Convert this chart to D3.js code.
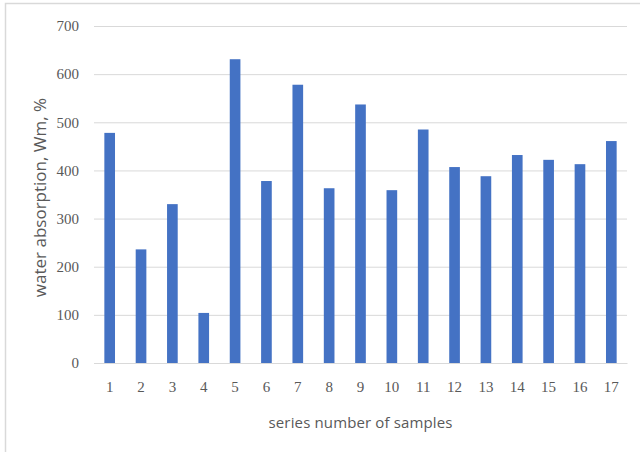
<!DOCTYPE html>
<html>
<head>
<meta charset="utf-8">
<script src="https://cdn.jsdelivr.net/npm/d3@7"></script>
<style>
  body { margin: 0; background: #fff; }
  svg { display: block; }
</style>
</head>
<body>
<svg width="640" height="452"></svg>
<script>
// sample series numbers and their water absorption values (Wm, %)
var samples = ["1","2","3","4","5","6","7","8","9","10","11","12","13","14","15","16","17"];
var absorption = [478, 236, 330, 104, 631, 378, 578, 363, 537, 359, 485, 407, 388, 432, 422, 413, 461];
var yTicks = [0, 100, 200, 300, 400, 500, 600, 700];

var data = samples.map((s, i) => ({ name: s, value: absorption[i] }));

const margin = { top: 26, right: 13, left: 94, bottom: 89 };
const width = 640 - margin.left - margin.right;
const height = 452 - margin.top - margin.bottom;

var root = d3.select("svg");

// outer frame (only top and left edges show inside the crop)
root.append("rect")
    .attr("x", 5.5).attr("y", 3.5)
    .attr("width", 660).attr("height", 470)
    .attr("fill", "none")
    .attr("stroke", "#d9d9d9")
    .attr("stroke-width", 1.5);

var svg = root.append("g")
    .attr("transform", "translate(" + margin.left + "," + margin.top + ")");

var x = d3.scaleBand().domain(samples).range([0, width]).paddingInner(0.66).paddingOuter(0.33);
var y = d3.scaleLinear().domain([0, 700]).range([height, 0]);

// gridlines
var yAxis = d3.axisLeft(y).tickValues(yTicks).tickSize(-width).tickPadding(15);
var yG = svg.append("g").call(yAxis);
yG.select(".domain").remove();
yG.selectAll(".tick line").attr("stroke", "#d9d9d9").attr("stroke-width", 1);
yG.selectAll(".tick text")
    .attr("fill", "#595959")
    .style("font-family", "'Liberation Serif', serif")
    .style("font-size", "15px");

// bars
svg.selectAll("rect.bar").data(data)
  .enter().append("rect")
    .attr("class", "bar")
    .attr("x", d => x(d.name))
    .attr("y", d => y(d.value))
    .attr("width", x.bandwidth())
    .attr("height", d => y(0) - y(d.value))
    .attr("fill", "#4472c4");

var xAxis = d3.axisBottom(x).tickSize(0).tickPadding(18);
var xG = svg.append("g")
    .attr("transform", "translate(0," + height + ")")
    .call(xAxis);
xG.select(".domain").attr("stroke", "#d9d9d9");
xG.selectAll(".tick text")
    .attr("fill", "#595959")
    .style("font-family", "'Liberation Serif', serif")
    .style("font-size", "15px");

// axis titles
svg.append("text")
    .attr("x", width / 2)
    .attr("y", height + 65)
    .attr("text-anchor", "middle")
    .attr("fill", "#595959")
    .style("font-family", "'Open Sans', sans-serif")
    .style("font-size", "15px")
    .attr("textLength", 184)
    .text("series number of samples");

svg.append("text")
    .attr("transform", "translate(" + (-48) + "," + (height / 2 + 3) + ") rotate(-90)")
    .attr("text-anchor", "middle")
    .attr("fill", "#595959")
    .style("font-family", "'Open Sans', sans-serif")
    .style("font-size", "17px")
    .text("water absorption, Wm, %");
</script>
</body>
</html>
